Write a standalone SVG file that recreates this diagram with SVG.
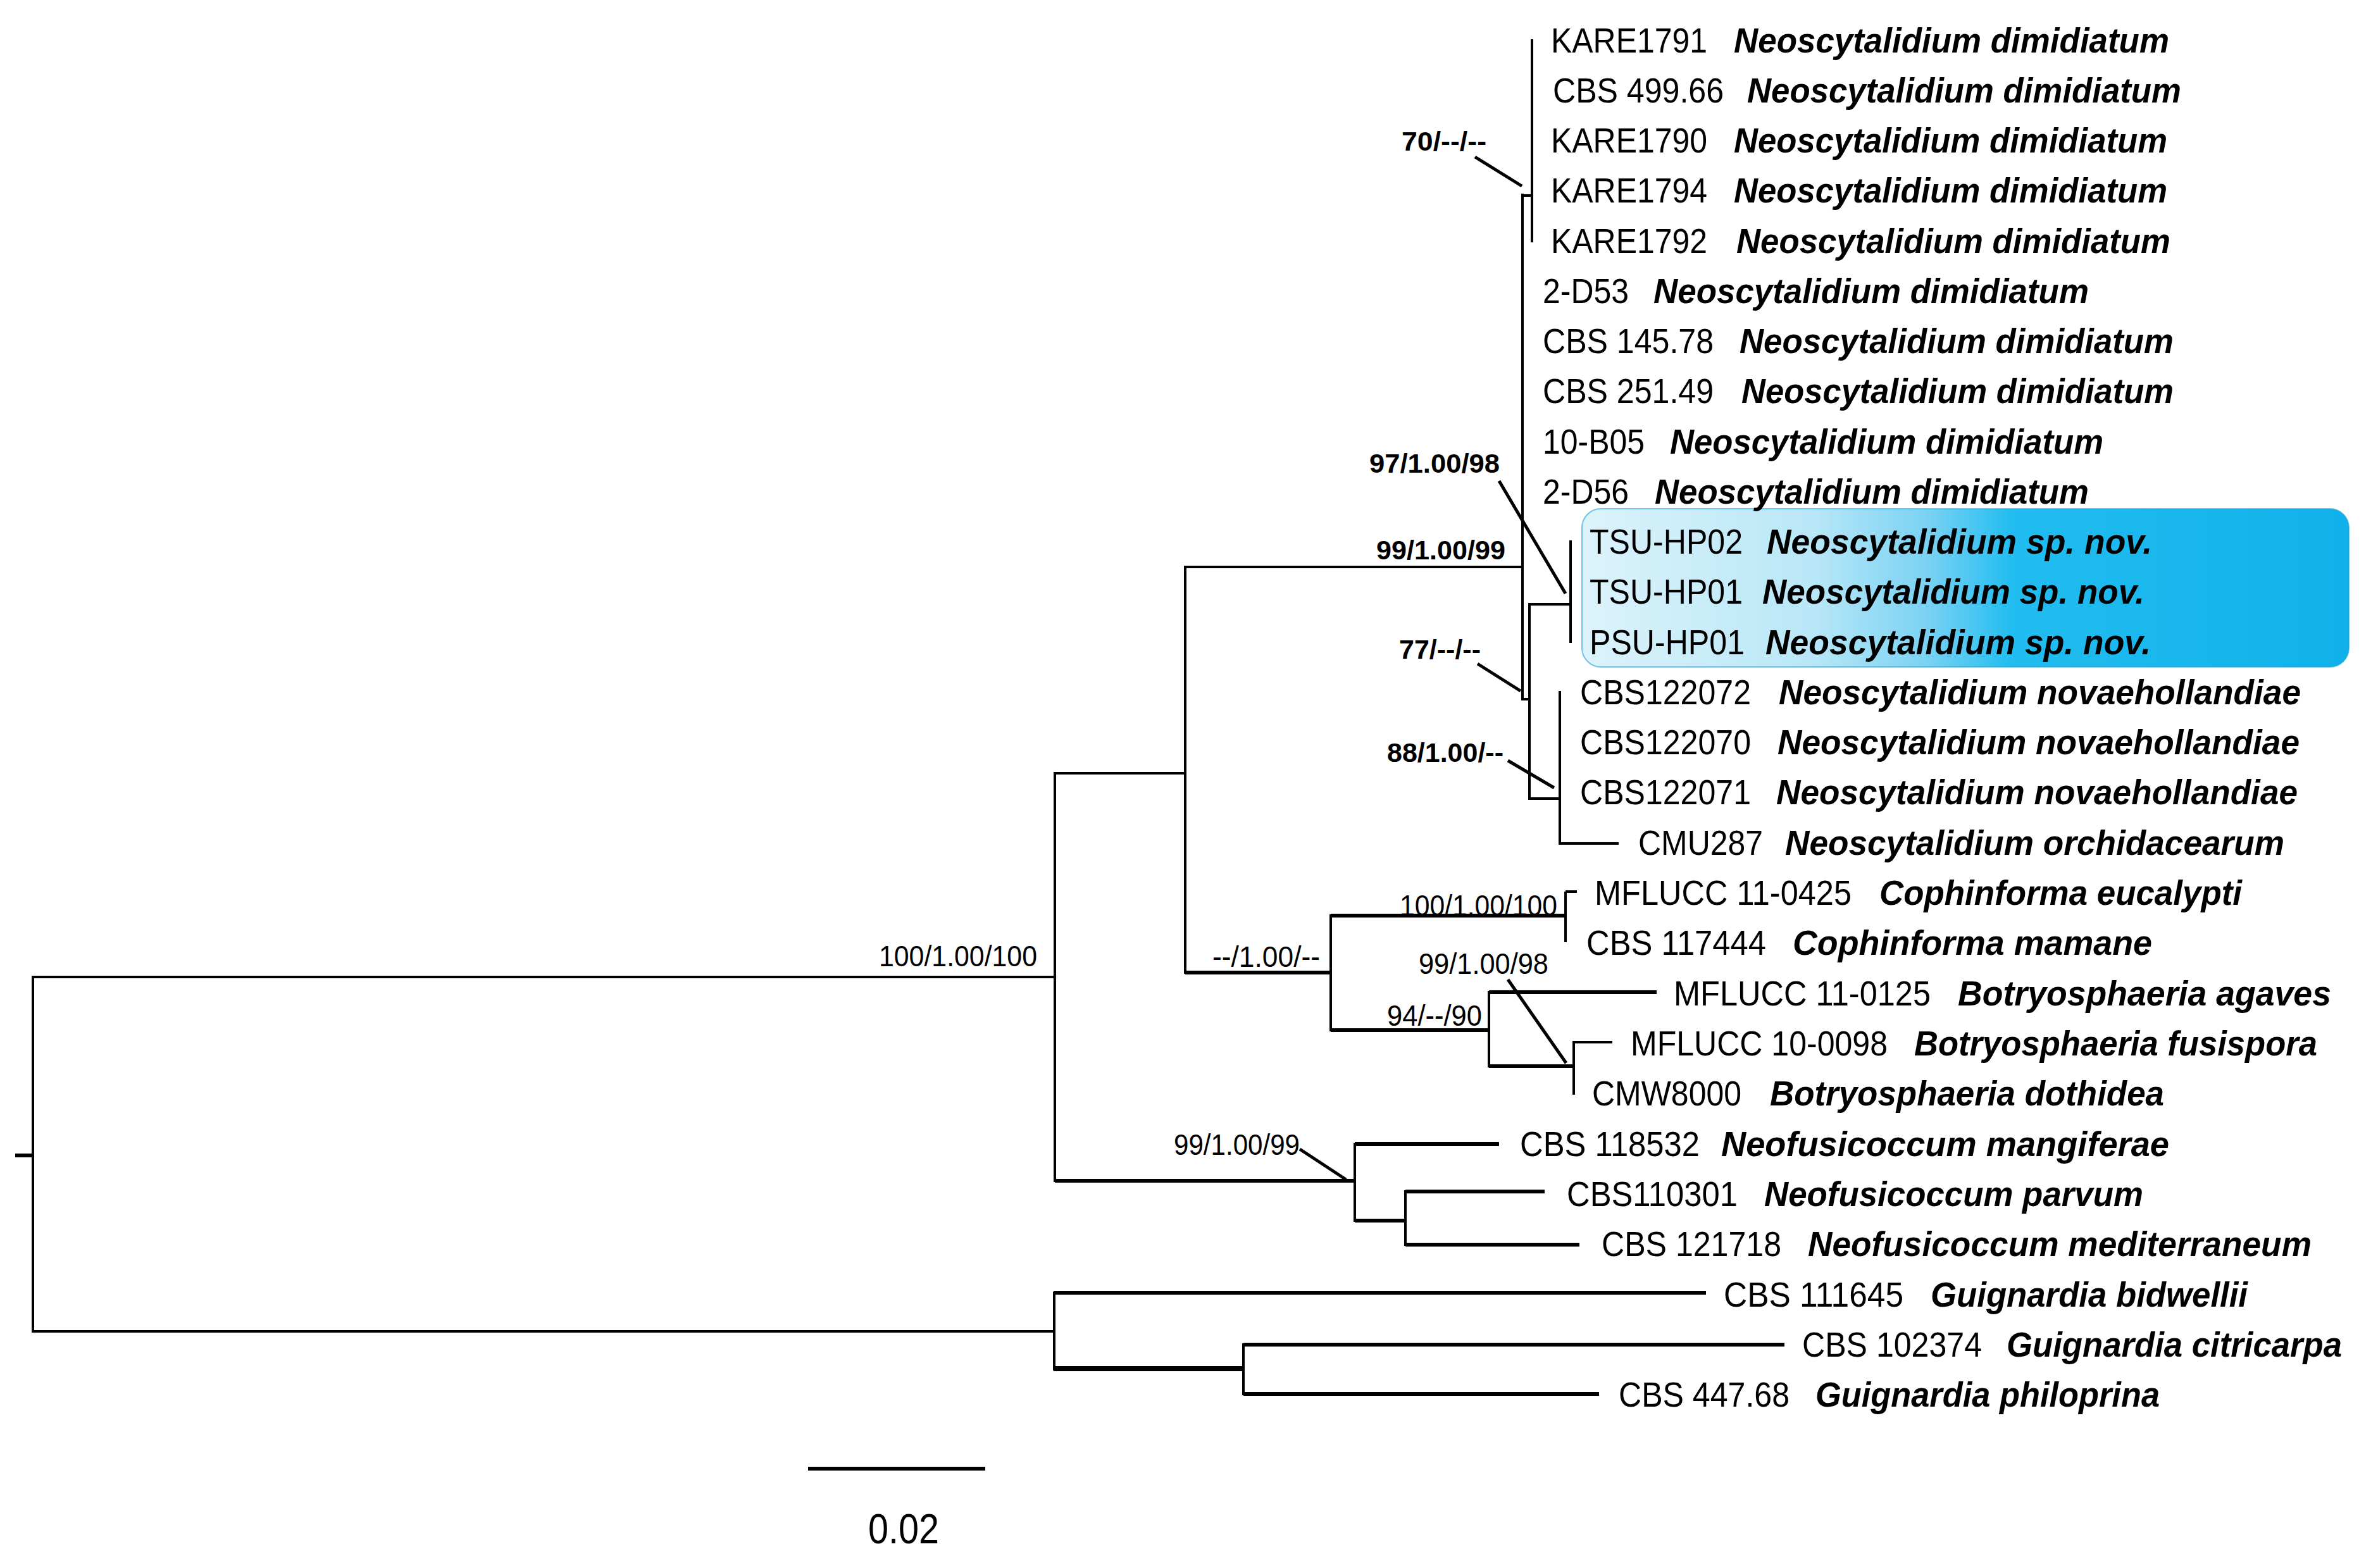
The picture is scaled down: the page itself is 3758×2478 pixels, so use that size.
<svg xmlns="http://www.w3.org/2000/svg" width="3758" height="2478" viewBox="0 0 3758 2478">
<defs>
<linearGradient id="boxg" x1="0" y1="0" x2="1" y2="0">
<stop offset="0" stop-color="#dcf3fb"/>
<stop offset="0.3" stop-color="#b9e7f7"/>
<stop offset="0.45" stop-color="#7ad2f3"/>
<stop offset="0.56" stop-color="#22bdf0"/>
<stop offset="1" stop-color="#10b1ea"/>
</linearGradient>
<style>
.ln{fill:none;stroke:#000;stroke-width:4}
.tk{fill:none;stroke:#000;stroke-width:6}
.ld{fill:none;stroke:#000;stroke-width:5}
.st{font-family:"Liberation Sans",Arial,sans-serif;font-size:56px;fill:#000}
.sp{font-family:"Liberation Sans",Arial,sans-serif;font-size:55px;font-weight:bold;font-style:italic;fill:#000}
.bu{font-family:"Liberation Sans",Arial,sans-serif;font-size:43px;font-weight:bold;fill:#000}
.bl{font-family:"Liberation Sans",Arial,sans-serif;font-size:47px;fill:#000}
</style>
</defs>
<rect width="3758" height="2478" fill="#fff"/>
<rect id="highlight" x="2500" y="804" width="1212" height="250" rx="30" fill="url(#boxg)" stroke="#1aa0d4" stroke-width="2" stroke-opacity="0.6"/>

<g id="connectors">
<path class="tk" d="M24 1826H52"/>
<path class="ln" d="M52 1542V2106M52 1544H1667M52 2104H1666"/>
<path class="ln" d="M1667 1220V1868M1667 1222H1873M1873 894V1539M1873 896H2406"/>
<path class="ln" d="M2406 306V1107M2406 309H2421M2421 62V383M2406 1105H2417"/>
<path class="ln" d="M2417 953V1264M2417 955H2482M2482 854V1016M2417 1262H2465M2465 1092V1335M2465 1333H2558"/>
<path class="tk" d="M1873 1537H2103"/>
<path class="ln" d="M2103 1445V1630"/>
<path class="tk" d="M2103 1447H2474"/>
<path class="ln" d="M2474 1409V1489M2474 1409H2492"/>
<path class="tk" d="M2103 1628H2353"/>
<path class="ln" d="M2353 1566V1687"/>
<path class="tk" d="M2353 1568H2618M2353 1685H2487"/>
<path class="ln" d="M2487 1645V1730M2487 1647H2548"/>
<path class="tk" d="M1667 1866H2141"/>
<path class="ln" d="M2141 1806V1931"/>
<path class="tk" d="M2141 1808H2369M2141 1929H2221"/>
<path class="ln" d="M2221 1881V1969"/>
<path class="tk" d="M2221 1883H2441M2221 1967H2496"/>
<path class="ln" d="M1666 2041V2166"/>
<path class="tk" d="M1666 2043H2696"/>
<path class="tk" d="M1666 2163H1965" style="stroke-width:8"/>
<path class="ln" d="M1965 2123V2205"/>
<path class="tk" d="M1965 2125H2820M1965 2203H2527"/>
<path class="ld" d="M2331 248L2405 294M2369 760L2474 938M2335 1049L2403 1092M2383 1202L2456 1245M2383 1548L2475 1680M2054 1816L2127 1864"/>
</g>

<g id="support">
<text class="bu" x="2215" y="238" textLength="134" lengthAdjust="spacingAndGlyphs">70/--/--</text>
<text class="bu" x="2164" y="747" textLength="206" lengthAdjust="spacingAndGlyphs">97/1.00/98</text>
<text class="bu" x="2175" y="884" textLength="204" lengthAdjust="spacingAndGlyphs">99/1.00/99</text>
<text class="bu" x="2211" y="1041" textLength="129" lengthAdjust="spacingAndGlyphs">77/--/--</text>
<text class="bu" x="2192" y="1204" textLength="184" lengthAdjust="spacingAndGlyphs">88/1.00/--</text>
<text class="bl" x="1389" y="1527" textLength="250" lengthAdjust="spacingAndGlyphs">100/1.00/100</text>
<text class="bl" x="1916" y="1528" textLength="170" lengthAdjust="spacingAndGlyphs">--/1.00/--</text>
<text class="bl" x="2212" y="1447" textLength="249" lengthAdjust="spacingAndGlyphs">100/1.00/100</text>
<text class="bl" x="2242" y="1539" textLength="205" lengthAdjust="spacingAndGlyphs">99/1.00/98</text>
<text class="bl" x="2192" y="1621" textLength="150" lengthAdjust="spacingAndGlyphs">94/--/90</text>
<text class="bl" x="1855" y="1825" textLength="199" lengthAdjust="spacingAndGlyphs">99/1.00/99</text>
</g>

<g id="taxa">
<g id="t01"><text class="st" x="2451" y="83" textLength="247" lengthAdjust="spacingAndGlyphs">KARE1791</text><text class="sp" x="2740" y="83" textLength="688" lengthAdjust="spacingAndGlyphs">Neoscytalidium dimidiatum</text></g>
<g id="t02"><text class="st" x="2454" y="162" textLength="270" lengthAdjust="spacingAndGlyphs">CBS 499.66</text><text class="sp" x="2761" y="162" textLength="686" lengthAdjust="spacingAndGlyphs">Neoscytalidium dimidiatum</text></g>
<g id="t03"><text class="st" x="2451" y="241" textLength="247" lengthAdjust="spacingAndGlyphs">KARE1790</text><text class="sp" x="2740" y="241" textLength="685" lengthAdjust="spacingAndGlyphs">Neoscytalidium dimidiatum</text></g>
<g id="t04"><text class="st" x="2451" y="320" textLength="247" lengthAdjust="spacingAndGlyphs">KARE1794</text><text class="sp" x="2740" y="320" textLength="685" lengthAdjust="spacingAndGlyphs">Neoscytalidium dimidiatum</text></g>
<g id="t05"><text class="st" x="2451" y="400" textLength="247" lengthAdjust="spacingAndGlyphs">KARE1792</text><text class="sp" x="2744" y="400" textLength="686" lengthAdjust="spacingAndGlyphs">Neoscytalidium dimidiatum</text></g>
<g id="t06"><text class="st" x="2438" y="479" textLength="136" lengthAdjust="spacingAndGlyphs">2-D53</text><text class="sp" x="2613" y="479" textLength="688" lengthAdjust="spacingAndGlyphs">Neoscytalidium dimidiatum</text></g>
<g id="t07"><text class="st" x="2438" y="558" textLength="270" lengthAdjust="spacingAndGlyphs">CBS 145.78</text><text class="sp" x="2749" y="558" textLength="686" lengthAdjust="spacingAndGlyphs">Neoscytalidium dimidiatum</text></g>
<g id="t08"><text class="st" x="2438" y="637" textLength="270" lengthAdjust="spacingAndGlyphs">CBS 251.49</text><text class="sp" x="2752" y="637" textLength="683" lengthAdjust="spacingAndGlyphs">Neoscytalidium dimidiatum</text></g>
<g id="t09"><text class="st" x="2438" y="717" textLength="161" lengthAdjust="spacingAndGlyphs">10-B05</text><text class="sp" x="2639" y="717" textLength="685" lengthAdjust="spacingAndGlyphs">Neoscytalidium dimidiatum</text></g>
<g id="t10"><text class="st" x="2438" y="796" textLength="136" lengthAdjust="spacingAndGlyphs">2-D56</text><text class="sp" x="2615" y="796" textLength="686" lengthAdjust="spacingAndGlyphs">Neoscytalidium dimidiatum</text></g>
<g id="t11"><text class="st" x="2512" y="875" textLength="242" lengthAdjust="spacingAndGlyphs">TSU-HP02</text><text class="sp" x="2792" y="875" textLength="609" lengthAdjust="spacingAndGlyphs">Neoscytalidium sp. nov.</text></g>
<g id="t12"><text class="st" x="2512" y="954" textLength="242" lengthAdjust="spacingAndGlyphs">TSU-HP01</text><text class="sp" x="2785" y="954" textLength="604" lengthAdjust="spacingAndGlyphs">Neoscytalidium sp. nov.</text></g>
<g id="t13"><text class="st" x="2512" y="1034" textLength="245" lengthAdjust="spacingAndGlyphs">PSU-HP01</text><text class="sp" x="2790" y="1034" textLength="609" lengthAdjust="spacingAndGlyphs">Neoscytalidium sp. nov.</text></g>
<g id="t14"><text class="st" x="2497" y="1113" textLength="270" lengthAdjust="spacingAndGlyphs">CBS122072</text><text class="sp" x="2811" y="1113" textLength="825" lengthAdjust="spacingAndGlyphs">Neoscytalidium novaehollandiae</text></g>
<g id="t15"><text class="st" x="2497" y="1192" textLength="270" lengthAdjust="spacingAndGlyphs">CBS122070</text><text class="sp" x="2809" y="1192" textLength="825" lengthAdjust="spacingAndGlyphs">Neoscytalidium novaehollandiae</text></g>
<g id="t16"><text class="st" x="2497" y="1271" textLength="270" lengthAdjust="spacingAndGlyphs">CBS122071</text><text class="sp" x="2807" y="1271" textLength="824" lengthAdjust="spacingAndGlyphs">Neoscytalidium novaehollandiae</text></g>
<g id="t17"><text class="st" x="2589" y="1351" textLength="197" lengthAdjust="spacingAndGlyphs">CMU287</text><text class="sp" x="2821" y="1351" textLength="789" lengthAdjust="spacingAndGlyphs">Neoscytalidium orchidacearum</text></g>
<g id="t18"><text class="st" x="2520" y="1430" textLength="406" lengthAdjust="spacingAndGlyphs">MFLUCC 11-0425</text><text class="sp" x="2970" y="1430" textLength="573" lengthAdjust="spacingAndGlyphs">Cophinforma eucalypti</text></g>
<g id="t19"><text class="st" x="2507" y="1509" textLength="284" lengthAdjust="spacingAndGlyphs">CBS 117444</text><text class="sp" x="2833" y="1509" textLength="568" lengthAdjust="spacingAndGlyphs">Cophinforma mamane</text></g>
<g id="t20"><text class="st" x="2645" y="1589" textLength="406" lengthAdjust="spacingAndGlyphs">MFLUCC 11-0125</text><text class="sp" x="3094" y="1589" textLength="590" lengthAdjust="spacingAndGlyphs">Botryosphaeria agaves</text></g>
<g id="t21"><text class="st" x="2577" y="1668" textLength="406" lengthAdjust="spacingAndGlyphs">MFLUCC 10-0098</text><text class="sp" x="3025" y="1668" textLength="637" lengthAdjust="spacingAndGlyphs">Botryosphaeria fusispora</text></g>
<g id="t22"><text class="st" x="2516" y="1747" textLength="236" lengthAdjust="spacingAndGlyphs">CMW8000</text><text class="sp" x="2797" y="1747" textLength="623" lengthAdjust="spacingAndGlyphs">Botryosphaeria dothidea</text></g>
<g id="t23"><text class="st" x="2402" y="1827" textLength="284" lengthAdjust="spacingAndGlyphs">CBS 118532</text><text class="sp" x="2720" y="1827" textLength="708" lengthAdjust="spacingAndGlyphs">Neofusicoccum mangiferae</text></g>
<g id="t24"><text class="st" x="2476" y="1906" textLength="270" lengthAdjust="spacingAndGlyphs">CBS110301</text><text class="sp" x="2788" y="1906" textLength="599" lengthAdjust="spacingAndGlyphs">Neofusicoccum parvum</text></g>
<g id="t25"><text class="st" x="2531" y="1985" textLength="284" lengthAdjust="spacingAndGlyphs">CBS 121718</text><text class="sp" x="2857" y="1985" textLength="796" lengthAdjust="spacingAndGlyphs">Neofusicoccum mediterraneum</text></g>
<g id="t26"><text class="st" x="2724" y="2065" textLength="284" lengthAdjust="spacingAndGlyphs">CBS 111645</text><text class="sp" x="3051" y="2065" textLength="501" lengthAdjust="spacingAndGlyphs">Guignardia bidwellii</text></g>
<g id="t27"><text class="st" x="2848" y="2144" textLength="284" lengthAdjust="spacingAndGlyphs">CBS 102374</text><text class="sp" x="3171" y="2144" textLength="530" lengthAdjust="spacingAndGlyphs">Guignardia citricarpa</text></g>
<g id="t28"><text class="st" x="2558" y="2223" textLength="270" lengthAdjust="spacingAndGlyphs">CBS 447.68</text><text class="sp" x="2869" y="2223" textLength="544" lengthAdjust="spacingAndGlyphs">Guignardia philoprina</text></g>
</g>

<g id="scalebar">
<path class="tk" d="M1277 2321H1557"/>
<text x="1372" y="2439" font-family="Liberation Sans, Arial, sans-serif" font-size="66" textLength="112" lengthAdjust="spacingAndGlyphs">0.02</text>
</g>
</svg>
